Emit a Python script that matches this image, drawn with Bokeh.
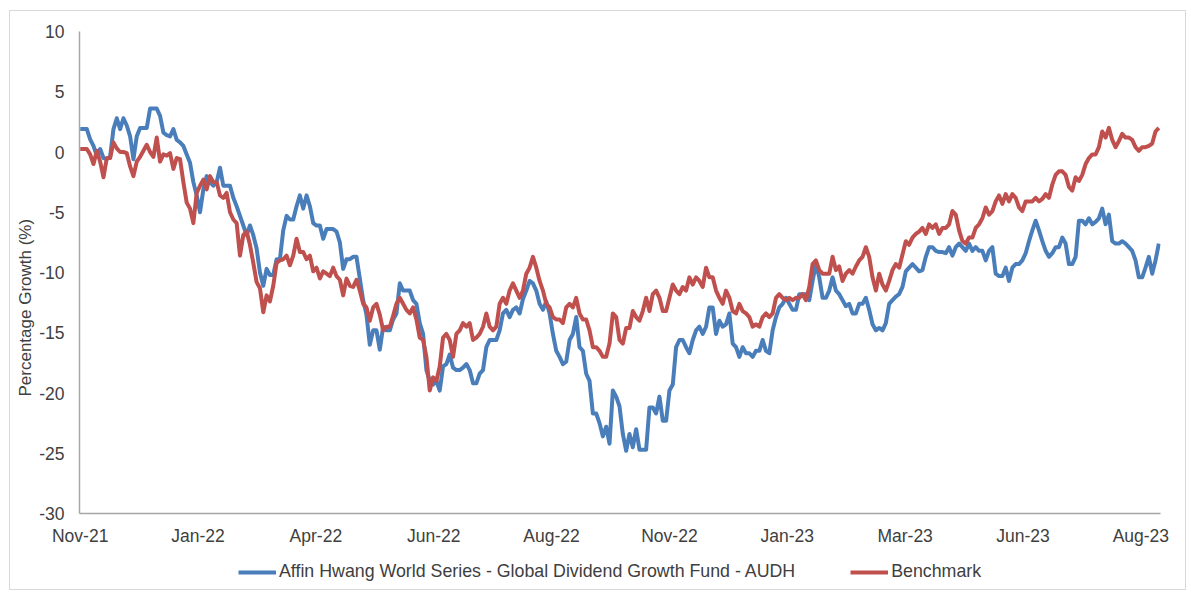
import numpy as np
from bokeh.plotting import figure
from bokeh.layouts import column
from bokeh.models import (Range1d, FixedTicker, Legend, LegendItem,
                          ColumnDataSource, Title)
from bokeh.embed import file_html
from bokeh.resources import INLINE

# ---------------- data ----------------
month_labels = ["Nov-21", "Jan-22", "Apr-22", "Jun-22", "Aug-22",
                "Nov-22", "Jan-23", "Mar-23", "Jun-23", "Aug-23"]
samples_per_label = 35.4   # observations between two category labels
y_ticks = [-30, -25, -20, -15, -10, -5, 0, 5, 10]

fund_name = "Affin Hwang World Series - Global Dividend Growth Fund - AUDH"
bench_name = "Benchmark"
y_title = "Percentage Growth (%)"

fund = [
    1.9, 1.9, 1.9, 1.05, 0.5, -0.3, 0.25, -0.5, -0.6, -0.4,
    1.9, 2.8, 1.9, 2.8, 2.2, 1.3, -0.6, 1.3, 2.0, 2.0,
    2.0, 3.6, 3.6, 3.6, 3.0, 1.6, 1.4, 1.3, 1.9, 1.0,
    0.8, 0.5, -0.2, -0.9, -2.5, -3.6, -5.0, -3.1, -2.0, -2.5,
    -2.8, -2.5, -1.3, -2.8, -2.8, -2.8, -3.8, -4.5, -5.3, -6.1,
    -6.9, -6.1, -6.9, -8.0, -10.0, -11.1, -9.7, -10.2, -10.2, -8.9,
    -8.9, -6.5, -5.3, -5.6, -5.6, -4.5, -3.6, -4.7, -3.6, -4.5,
    -5.9, -6.1, -6.1, -7.2, -6.4, -6.4, -6.4, -6.6, -7.5, -9.7,
    -8.9, -8.9,
    -8.7, -8.7, -10.5, -12.3, -13.5, -16.0, -14.8, -14.8, -16.4, -14.5,
    -14.8, -14.8, -13.9, -13.4, -10.9, -11.5, -11.5, -11.5, -12.3, -12.6,
    -14.2, -15.1, -18.1, -19.0, -19.3, -19.0, -19.8, -17.8, -17.6, -16.8,
    -17.9, -18.1, -18.1, -17.9, -17.6, -18.1, -19.2, -19.2, -18.4, -18.1,
    -16.2, -15.6, -15.6, -15.6, -14.8, -13.4, -13.1, -13.7, -13.1, -12.9,
    -13.4, -12.2, -11.5, -10.7, -10.9, -11.5, -12.6, -13.1, -12.4, -13.4,
    -15.1, -16.5, -17.0, -17.6, -17.4, -15.6, -15.1, -13.7, -16.2, -16.5,
    -18.4, -19.0, -21.7, -21.7, -22.5, -23.6, -22.8, -24.2, -19.8, -20.3,
    -21.1,
    -23.4, -24.8, -23.4, -24.5, -23.0, -24.7, -24.7, -24.7, -21.2, -21.2,
    -21.7, -20.3, -22.3, -22.3, -19.8, -19.3, -16.2, -15.6, -15.6, -16.2,
    -16.7, -15.6, -14.8, -14.5, -15.1, -14.5, -12.9, -12.9, -15.1, -14.0,
    -14.5, -14.3, -13.4, -15.9, -16.2, -17.0, -16.2, -16.7, -16.7, -17.0,
    -16.5, -16.5, -15.6, -16.5, -16.7, -14.8, -13.7, -12.9, -12.6, -12.1,
    -12.6, -13.1, -13.1, -11.8, -11.8, -11.8, -12.3, -10.7, -9.3, -10.4,
    -12.1, -12.1, -11.5, -10.4, -11.5, -11.8, -12.3, -12.8, -12.6, -13.4,
    -13.4, -12.6, -12.6, -12.1, -13.1, -14.3, -14.8, -14.6, -14.8, -14.2,
    -12.6,
    -12.3, -12.0, -11.8, -11.2, -9.9, -9.6, -9.3, -9.6, -9.9, -9.8,
    -8.7, -7.9, -7.9, -8.2, -8.3, -8.3, -8.4, -7.9, -8.6, -7.9,
    -7.6, -7.9, -8.2, -7.6, -8.2, -7.9, -8.2, -8.2, -9.0, -8.2,
    -7.9, -10.1, -10.3, -10.3, -9.6, -10.7, -9.6, -9.3, -9.3, -9.0,
    -8.4, -7.4, -6.5, -5.7, -6.5, -7.4, -8.2, -8.7, -8.4, -7.9,
    -7.9, -7.1, -7.6, -9.3, -9.3, -8.7, -5.7, -5.7, -6.0, -5.5,
    -6.0, -5.8, -5.5, -4.7, -6.0, -5.2, -7.4, -7.6, -7.6, -7.4,
    -7.6, -7.9, -8.2, -9.0, -10.4, -10.4, -9.6, -8.7, -10.1, -9.0,
    -7.6,
]

benchmark = [
    0.25, 0.25, 0.25, -0.2, -1.0, 0.1, -0.8, -2.1, -0.5, -0.5,
    0.8, 0.3, 0.0, 0.0, -0.1, -1.2, -2.0, -0.8, -0.4, 0.1,
    0.6, 0.0, -0.4, 1.2, -0.8, -0.2, -0.3, -0.1, -1.4, -0.5,
    -0.6, -2.5, -4.2, -4.7, -5.9, -3.4, -2.8, -2.3, -3.1, -2.0,
    -2.5, -2.5, -3.6, -3.8, -3.4, -5.0, -5.6, -5.9, -8.6, -6.9,
    -6.6, -7.7, -9.2, -10.8, -11.3, -13.3, -11.9, -12.4, -11.1, -9.2,
    -9.0, -8.9, -8.6, -9.4, -8.6, -7.2, -8.3, -8.3, -8.9, -8.6,
    -9.9, -9.6, -10.5, -9.9, -10.1, -10.3, -9.6, -10.3, -10.6, -11.9,
    -10.5, -11.1,
    -11.2, -10.6, -11.5, -12.6, -12.9, -14.0, -12.9, -12.6, -13.5, -14.8,
    -14.5, -14.5, -13.6, -12.6, -12.1, -12.6, -13.1, -13.4, -12.9, -13.9,
    -15.4, -15.6, -17.0, -19.8, -18.7, -19.0, -17.8, -15.4, -15.1, -15.6,
    -17.0, -15.1, -14.8, -14.2, -14.5, -14.2, -15.6, -15.4, -15.1, -14.5,
    -13.4, -14.5, -14.8, -14.5, -12.6, -12.1, -12.6, -11.5, -10.9, -11.5,
    -12.1, -11.5, -10.1, -9.6, -8.7, -9.6, -10.7, -11.5, -12.6, -12.9,
    -13.7, -13.9, -13.9, -14.2, -12.9, -12.6, -12.9, -12.1, -13.4, -13.9,
    -13.9, -14.8, -16.2, -16.2, -16.5, -17.0, -17.0, -15.9, -13.4, -13.7,
    -15.6,
    -15.9, -14.6, -14.6, -13.2, -13.7, -14.0, -13.2, -12.1, -13.2, -11.8,
    -11.5, -12.1, -13.2, -13.2, -12.1, -11.0, -11.5, -11.8, -11.2, -11.5,
    -10.4, -11.0, -10.4, -10.7, -11.2, -9.6, -10.4, -10.4, -11.5, -12.1,
    -12.6, -11.5, -12.1, -13.2, -13.4, -12.6, -13.2, -13.4, -13.7, -14.5,
    -14.3, -14.5, -13.7, -13.4, -13.7, -13.4, -12.1, -11.8, -12.1, -12.3,
    -12.1, -12.3, -12.1, -12.1, -11.8, -12.3, -11.2, -9.3, -9.0, -9.8,
    -10.1, -10.1, -10.1, -8.7, -9.8, -9.5, -10.7, -10.1, -9.8, -10.1,
    -9.5, -9.0, -8.7, -7.9, -8.7, -10.4, -11.5, -10.1, -11.0, -11.5,
    -10.7,
    -9.8, -9.3, -9.6, -8.5, -7.4, -7.7, -7.1, -6.8, -6.6, -6.3,
    -6.8, -6.0, -6.3, -6.0, -6.8, -6.3, -6.3, -6.0, -4.9, -5.2,
    -6.5, -7.4, -7.6, -7.1, -7.1, -6.3, -6.0, -5.5, -4.6, -5.2,
    -4.9, -4.1, -3.6, -4.3, -3.5, -4.1, -3.5, -3.8, -4.6, -4.9,
    -4.1, -4.1, -4.1, -3.8, -4.1, -3.9, -3.5, -3.8, -2.7, -1.9,
    -1.6, -1.6, -1.9, -2.9, -3.2, -2.1, -2.4, -1.9, -1.0, -0.5,
    -0.2, -0.2, 0.4, 1.7, 1.2, 2.0, 1.0, 0.4, 0.9, 1.5,
    1.2, 1.2, 1.0, 0.4, 0.1, 0.4, 0.4, 0.5, 0.7, 1.7,
    2.0,
]

# x position measured in "label intervals" (category axis)
pos = [i / samples_per_label for i in range(len(fund))]
src = ColumnDataSource(dict(x=pos, fund=fund, bench=benchmark))

FONT = "Liberation Sans"
TXT = "#404040"
BLUE = "#4a7ebb"
RED = "#c0504d"
LW = 4

# ---------------- main chart ----------------
p = figure(width=1175, height=548, output_backend="svg", toolbar_location=None,
           x_range=Range1d(-0.2 / samples_per_label, (len(fund) - 0.5) / samples_per_label),
           y_range=Range1d(y_ticks[0], y_ticks[-1]),
           min_border_left=69, min_border_right=25, min_border_top=20,
           min_border_bottom=46)
p.outline_line_color = None
p.background_fill_color = "white"
p.border_fill_color = "white"
p.xgrid.grid_line_color = None
p.ygrid.grid_line_color = None

r1 = p.line("x", "fund", source=src, line_color=BLUE, line_width=LW,
            line_join="round")
r2 = p.line("x", "bench", source=src, line_color=RED, line_width=LW,
            line_join="round")

for ax in (p.xaxis[0], p.yaxis[0]):
    ax.axis_line_color = "#a6a6a6"
    ax.axis_line_width = 1.5
    ax.major_tick_line_color = None
    ax.minor_tick_line_color = None
    ax.major_tick_out = 0
    ax.major_tick_in = 0
    ax.minor_tick_out = 0
    ax.minor_tick_in = 0
    ax.major_label_text_font = FONT
    ax.major_label_text_font_size = "17.5px"
    ax.major_label_text_color = TXT

p.xaxis.ticker = FixedTicker(ticks=list(range(len(month_labels))))
p.xaxis.major_label_overrides = {i: lab for i, lab in enumerate(month_labels)}
p.xaxis.major_label_standoff = 12

p.yaxis.ticker = FixedTicker(ticks=y_ticks)
p.yaxis.major_label_overrides = {v: str(v) for v in y_ticks}
p.yaxis.major_label_standoff = 15

p.add_layout(Title(text=y_title, align="left", offset=117,
                   text_font=FONT, text_font_size="17px",
                   text_font_style="normal", text_color=TXT, standoff=4),
             "left")

# ---------------- legend strip ----------------
lg = figure(width=1175, height=30, output_backend="svg", toolbar_location=None,
            x_axis_type=None, y_axis_type=None,
            x_range=Range1d(0, 1), y_range=Range1d(0, 1),
            min_border_left=0, min_border_right=0, min_border_top=0,
            min_border_bottom=0)
lg.outline_line_color = None
lg.xgrid.grid_line_color = None
lg.ygrid.grid_line_color = None
# legend keys only (no visible data)
k1 = lg.line(np.array([np.nan]), np.array([np.nan]), line_color=BLUE, line_width=LW)
k2 = lg.line(np.array([np.nan]), np.array([np.nan]), line_color=RED, line_width=LW)
legend = Legend(items=[LegendItem(label=fund_name, renderers=[k1]),
                       LegendItem(label=bench_name, renderers=[k2])],
                orientation="horizontal", location=(159, 7),
                label_text_font=FONT, label_text_font_size="17.8px",
                label_text_color=TXT, glyph_width=38, glyph_height=20,
                label_standoff=3, spacing=55, padding=0, margin=0,
                border_line_color=None, background_fill_alpha=0)
lg.add_layout(legend, "center")

page = column(p, lg, spacing=0, margin=(10, 0, 0, 9),
              styles={"border": "1px solid #d9d9d9"})

open("out.html", "w").write(file_html(page, INLINE))
